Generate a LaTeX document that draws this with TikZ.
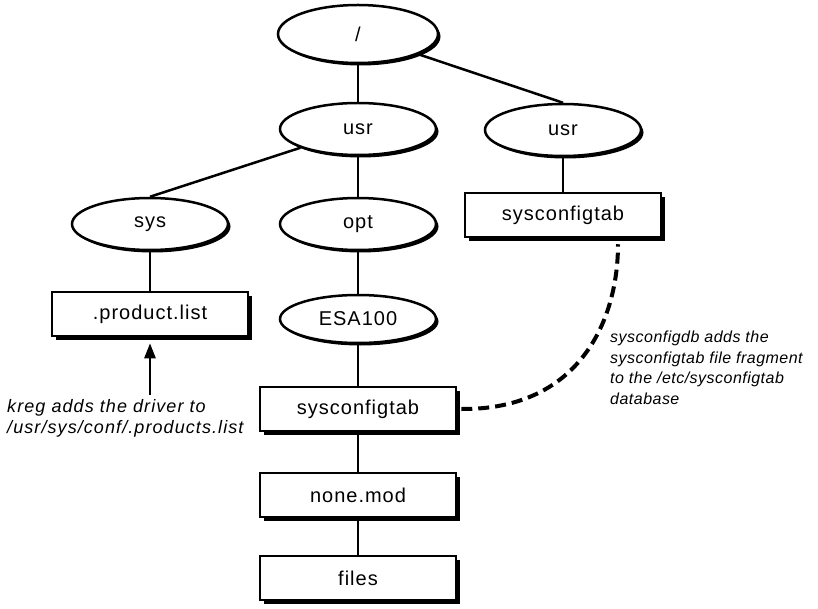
\documentclass[tikz,border=0pt]{standalone}
\usepackage{fontspec}
\setmainfont{Liberation Sans}
\newfontfamily\labelfont[LetterSpace=5]{Liberation Sans}
\newfontfamily\kregfont[LetterSpace=6]{Liberation Sans}
\newfontfamily\dbfont[LetterSpace=3]{Liberation Sans}
\usetikzlibrary{shapes.geometric,shadows,arrows.meta}

\tikzset{
  dirnode/.style={ellipse, draw, line width=2.5pt, fill=white,
    minimum width=156pt, minimum height=52pt, inner sep=0pt,
    font=\labelfont\fontsize{20}{24}\selectfont,
    drop shadow={shadow xshift=2.5pt, shadow yshift=-2.5pt, fill=black, opacity=1}},
  filebox/.style={rectangle, draw, line width=2.5pt, fill=white,
    minimum width=196pt, minimum height=44pt, inner sep=0pt,
    font=\labelfont\fontsize{20}{24}\selectfont,
    drop shadow={shadow xshift=4pt, shadow yshift=-4pt, fill=black, opacity=1}},
  link/.style={line width=2.5pt},
  dblink/.style={line width=4pt, dash pattern=on 11pt off 6pt},
  note/.style={align=left, inner sep=0pt},
}

\begin{document}
\begin{tikzpicture}[x=1pt, y=-1pt]
  % page frame
  \fill[white] (0,0) rectangle (818,609);
  \useasboundingbox (0,0) rectangle (818,609);

  % directories
  \node[dirnode, minimum width=160pt, minimum height=58pt] (root) at (358,34) {/};
  \node[dirnode] (usrA) at (358,129) {usr};
  \node[dirnode] (usrB) at (563,130) {usr};
  \node[dirnode] (sys)  at (150,224) {sys};
  \node[dirnode] (opt)  at (358,224) {opt};
  \node[dirnode, minimum height=48pt] (esa) at (358,319) {ESA100};

  % files
  \node[filebox] (plist) at (150,314) {.product.list};
  \node[filebox] (tabB)  at (563,215) {sysconfigtab};
  \node[filebox] (tabA)  at (358,409) {sysconfigtab};
  \node[filebox] (mod)   at (358,495) {none.mod};
  \node[filebox] (files) at (358,578) {files};

  % tree links
  \draw[link] (root) -- (usrA);
  \draw[link] (root) -- (usrB.north);
  \draw[link] (usrA) -- (sys.north);
  \draw[link] (usrA) -- (opt);
  \draw[link] (usrB) -- (tabB);
  \draw[link] (sys) -- (plist);
  \draw[link] (opt) -- (esa);
  \draw[link] (esa) -- (tabA);
  \draw[link] (tabA) -- (mod);
  \draw[link] (mod) -- (files);

  % kreg annotation
  \coordinate (kregfoot) at (150,395);
  \draw[link, -{Triangle[length=15pt, width=11pt]}] (kregfoot) -- ([yshift=-6pt]plist.south);
  \node[note, font=\kregfont\itshape\fontsize{18}{21}\selectfont, anchor=north west]
    (kregnote) at (7,399)
    {kreg adds the driver to\\/usr/sys/conf/.products.list};

  % sysconfigdb annotation
  \draw[dblink] ([xshift=4pt]tabA.east) .. controls (578,410) and (618,322) ..
    ([xshift=55pt, yshift=-6pt]tabB.south);
  \node[note, font=\dbfont\itshape\fontsize{16}{20.5}\selectfont, anchor=north west]
    (dbnote) at (610,331)
    {sysconfigdb adds the\\sysconfigtab file fragment\\to the /etc/sysconfigtab\\database};
\end{tikzpicture}
\end{document}
